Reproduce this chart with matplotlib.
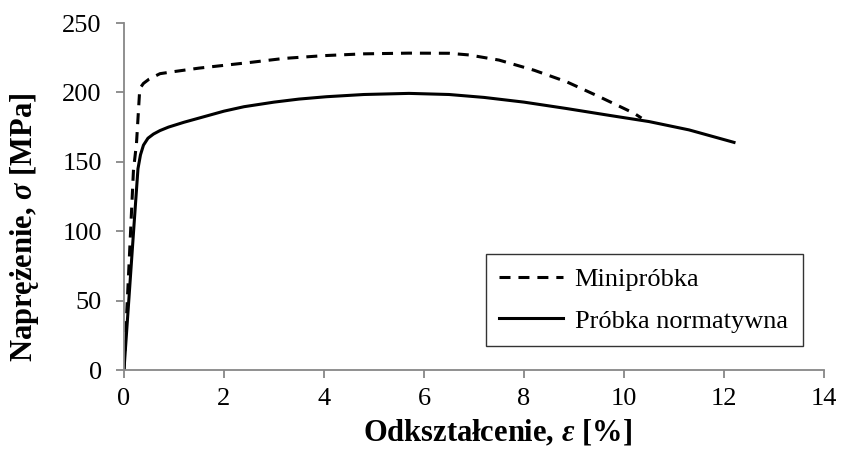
import matplotlib
matplotlib.use("Agg")
import matplotlib.pyplot as plt

# Krzywe rozciągania.
mini_x = [0, 0.1, 0.19, 0.25, 0.29, 0.31, 0.34, 0.39, 0.5, 0.72, 1.0, 1.5, 2.0,
          2.5, 3.2, 4.0, 4.8, 5.7, 6.5, 6.9, 7.5, 8.2, 8.85, 9.5, 10.2, 10.35]
mini_y = [0, 75, 144, 163, 187, 199, 204, 206.5, 209.5, 213.5, 215, 217.5, 219.5,
          221.5, 224.5, 226.5, 227.8, 228.3, 228.2, 227, 223.3, 216, 207.7, 197, 185, 181.5]

norm_x = [0, 0.1, 0.2, 0.28, 0.33, 0.39, 0.48, 0.59, 0.72, 0.89, 1.2, 1.6, 2.0,
          2.4, 3.0, 3.5, 4.05, 4.8, 5.7, 6.5, 7.2, 8.0, 8.85, 9.7, 10.5, 11.3, 12.2]
norm_y = [0, 52, 104, 145, 155, 162, 167, 170, 172.5, 175, 178.5, 182.5, 186.5,
          189.7, 193, 195.2, 196.9, 198.5, 199.3, 198.5, 196.4, 193, 188.4, 183.5, 179, 173, 164]

labels = ["Minipróbka", "Próbka normatywna"]
xticks = [0, 2, 4, 6, 8, 10, 12, 14]
yticks = [0, 50, 100, 150, 200, 250]

plt.rcParams["font.family"] = ["Liberation Serif", "DejaVu Serif"]
plt.rcParams["mathtext.fontset"] = "custom"
plt.rcParams["mathtext.rm"] = "Liberation Serif"
plt.rcParams["mathtext.it"] = "Liberation Serif:italic:bold"
plt.rcParams["mathtext.bf"] = "Liberation Serif:bold"

fig = plt.figure(figsize=(8.41, 4.54), dpi=100)
ax = fig.add_axes([0.1474, 0.185, 0.8324, 0.7643])

ax.plot(mini_x, mini_y, color="black", lw=2.2, dashes=(3.6, 2.6), label=labels[0])
ax.plot(norm_x, norm_y, color="black", lw=2.2, label=labels[1])

ax.set_xlim(0, 14)
ax.set_ylim(0, 250)
ax.set_xticks(xticks)
ax.set_yticks(yticks)

for s in ["top", "right"]:
    ax.spines[s].set_visible(False)
for s in ["left", "bottom"]:
    ax.spines[s].set_color("#878787")
    ax.spines[s].set_linewidth(1.3)
ax.tick_params(axis="both", colors="#878787", labelcolor="black",
               labelsize=19, length=6, width=1.3, direction="out")
ax.tick_params(axis="y", pad=10)
ax.tick_params(axis="x", pad=7)

ax.set_xlabel(r"Odkształcenie, $\varepsilon$ [%]", fontsize=22, fontweight="bold")
ax.set_ylabel(r"Naprężenie, $\sigma$ [MPa]", fontsize=22, fontweight="bold")
ax.xaxis.set_label_coords(0.534, -0.14)
ax.yaxis.set_label_coords(-0.118, 0.41)

leg = ax.legend(loc="lower left", bbox_to_anchor=(0.517, 0.069, 0.453, 0.269),
                mode="expand", borderaxespad=0, fontsize=19, frameon=True,
                fancybox=False, edgecolor="black", handlelength=2.4,
                borderpad=0.51, labelspacing=0.69, handletextpad=0.45)
leg.get_frame().set_linewidth(1.0)

plt.savefig("out.png", dpi=100)
